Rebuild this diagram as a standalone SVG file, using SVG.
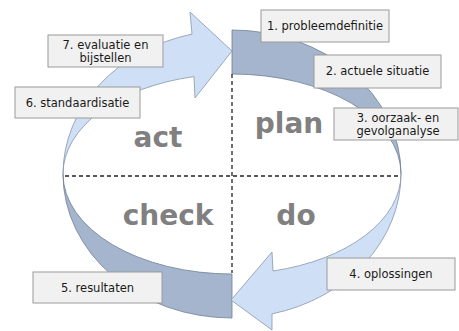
<svg xmlns="http://www.w3.org/2000/svg" width="459" height="331" viewBox="0 0 459 331">
<style>
.band{fill:#a4b5cd;stroke:#6f7f96;stroke-width:0.8}
.arrow{fill:#cfe0f6;stroke:#8595ab;stroke-width:0.8}
.box{fill:#f1f1f1;stroke:#9a9a9a;stroke-width:1}
.lbl{font-family:"DejaVu Sans",Verdana,sans-serif;font-size:11.5px;fill:#1a1a1a;text-anchor:middle}
.big{font-family:"DejaVu Sans",Verdana,sans-serif;font-size:28px;font-weight:bold;fill:#808080;text-anchor:middle}
.dash{stroke:#222;stroke-width:1.3;stroke-dasharray:4 3;fill:none}
</style>
<rect width="459" height="331" fill="#ffffff"/>
<g id="connectors">
<path id="plan-band" class="band" d="M232,30 A169,144 0 0 1 401,174 A169,100 0 0 0 232,74 Z"/>
<path id="check-band" class="band" d="M63,174 A169,144 0 0 0 232,318 L232,274 A169,100 0 0 1 63,174 Z"/>
<path id="act-arrow" class="arrow" d="M63,174 A169,144 0 0 1 192,34.1 L190,12 L232,51 L195,98 L194,76.6 A169,100 0 0 0 63,174 Z"/>
<path id="do-arrow" class="arrow" d="M401,174 A169,144 0 0 1 272,313.9 L272,330 L231,300 L272,252 L273,271 A169,100 0 0 0 401,174 Z"/>
<line class="dash" x1="65" y1="176" x2="400" y2="176"/>
<line class="dash" x1="232" y1="74" x2="232" y2="273"/>
</g>
<g id="quadrants">
<text class="big" x="158" y="147">act</text>
<text class="big" x="289" y="133">plan</text>
<text class="big" x="168" y="225">check</text>
<text class="big" x="296" y="225">do</text>
</g>
<g id="n1"><rect class="box" x="261" y="10" width="128" height="32"/><text class="lbl" x="325" y="30">1. probleemdefinitie</text></g>
<g id="n2"><rect class="box" x="314" y="55" width="127" height="33"/><text class="lbl" x="377.5" y="75">2. actuele situatie</text></g>
<g id="n3"><rect class="box" x="334" y="108" width="124" height="32"/><text class="lbl" x="398" y="122">3. oorzaak- en</text><text class="lbl" x="398" y="135">gevolganalyse</text></g>
<g id="n4"><rect class="box" x="327" y="258" width="128" height="32"/><text class="lbl" x="391" y="278">4. oplossingen</text></g>
<g id="n5"><rect class="box" x="33" y="272" width="129" height="31"/><text class="lbl" x="97.5" y="292">5. resultaten</text></g>
<g id="n6"><rect class="box" x="15" y="87" width="125" height="31"/><text class="lbl" x="77.5" y="107">6. standaardisatie</text></g>
<g id="n7"><rect class="box" x="48" y="35" width="115" height="32"/><text class="lbl" x="105.5" y="49">7. evaluatie en</text><text class="lbl" x="105.5" y="62">bijstellen</text></g>
</svg>
